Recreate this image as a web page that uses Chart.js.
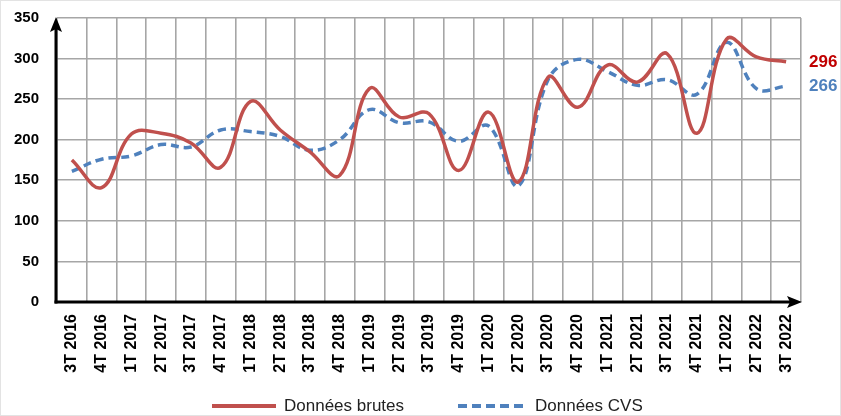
<!DOCTYPE html>
<html lang="fr">
<head>
<meta charset="utf-8">
<title>Données brutes et CVS</title>
<script src="https://cdn.jsdelivr.net/npm/chart.js@4.4.1/dist/chart.umd.min.js"></script>
<style>
  html, body { margin: 0; padding: 0; background: #fff; }
  #zone { width: 841px; height: 416px; position: relative; }
</style>
</head>
<body>
<div id="zone"><canvas id="graphique"></canvas></div>
<script>
// Trimestres (axe horizontal)
const trimestres = [
  "3T 2016", "4T 2016",
  "1T 2017", "2T 2017", "3T 2017", "4T 2017",
  "1T 2018", "2T 2018", "3T 2018", "4T 2018",
  "1T 2019", "2T 2019", "3T 2019", "4T 2019",
  "1T 2020", "2T 2020", "3T 2020", "4T 2020",
  "1T 2021", "2T 2021", "3T 2021", "4T 2021",
  "1T 2022", "2T 2022", "3T 2022"
];

// Séries
const donneesBrutes = [175, 141, 207, 208, 196, 166, 247, 212, 185, 156, 263, 228, 232, 162, 234, 148, 277, 240, 292, 271, 306, 208, 324, 302, 296];
const donneesCVS = [161, 176, 180, 194, 191, 212, 210, 204, 187, 200, 237, 221, 222, 198, 217, 143, 274, 299, 284, 267, 274, 256, 320, 263, 266];

// Graduations de l'axe vertical
const yMin = 0;
const yMax = 350;
const yPas = 50;

const couleurBrutes = "#C0504D";
const couleurCVS = "#4F81BD";
const couleurEtiquetteBrutes = "#C00000";
const police = "'Liberation Sans', Arial, sans-serif";

// Axes noirs avec flèches
const pluginAxes = {
  id: "axesFleches",
  afterDatasetsDraw(chart) {
    const { ctx, chartArea } = chart;
    const g = chartArea.left - 1;
    const b = chartArea.bottom;
    ctx.save();
    ctx.strokeStyle = "#000";
    ctx.fillStyle = "#000";
    ctx.lineWidth = 3;
    // axe vertical
    ctx.beginPath();
    ctx.moveTo(g, b + 1.5);
    ctx.lineTo(g, chartArea.top + 10);
    ctx.stroke();
    ctx.beginPath();
    ctx.moveTo(g, chartArea.top - 1);
    ctx.lineTo(g - 6, chartArea.top + 14);
    ctx.lineTo(g, chartArea.top + 11);
    ctx.lineTo(g + 6, chartArea.top + 14);
    ctx.closePath();
    ctx.fill();
    // axe horizontal
    ctx.beginPath();
    ctx.moveTo(g - 1.5, b);
    ctx.lineTo(chartArea.right - 10, b);
    ctx.stroke();
    ctx.beginPath();
    ctx.moveTo(chartArea.right + 1, b);
    ctx.lineTo(chartArea.right - 14, b - 6);
    ctx.lineTo(chartArea.right - 11, b);
    ctx.lineTo(chartArea.right - 14, b + 6);
    ctx.closePath();
    ctx.fill();
    ctx.restore();
  }
};

// Dernière valeur de chaque série, à droite du graphique
const pluginEtiquettes = {
  id: "etiquettesFin",
  afterDatasetsDraw(chart) {
    const { ctx, chartArea } = chart;
    const couleurs = [couleurEtiquetteBrutes, couleurCVS];
    ctx.save();
    ctx.font = "bold 17px " + police;
    ctx.textAlign = "left";
    ctx.textBaseline = "middle";
    chart.data.datasets.forEach((ds, i) => {
      const meta = chart.getDatasetMeta(i);
      const dernier = meta.data[meta.data.length - 1];
      ctx.fillStyle = couleurs[i];
      ctx.fillText(String(ds.data[ds.data.length - 1]), chartArea.right + 8, dernier.y);
    });
    ctx.restore();
  }
};

// Légende en bas
const pluginLegende = {
  id: "legendeBas",
  afterDraw(chart) {
    const { ctx } = chart;
    const y = 406;
    ctx.save();
    ctx.lineWidth = 4;
    ctx.strokeStyle = couleurBrutes;
    ctx.beginPath();
    ctx.moveTo(212, y);
    ctx.lineTo(276, y);
    ctx.stroke();
    ctx.strokeStyle = couleurCVS;
    ctx.setLineDash([9, 5]);
    ctx.beginPath();
    ctx.moveTo(458, y);
    ctx.lineTo(528, y);
    ctx.stroke();
    ctx.setLineDash([]);
    ctx.fillStyle = "#222";
    ctx.font = "17px 'Liberation Sans Narrow', " + police;
    ctx.textBaseline = "middle";
    ctx.fillText("Données brutes", 284, y);
    ctx.fillText("Données CVS", 535, y);
    ctx.restore();
  }
};

// Cadre léger autour de l'image
const pluginCadre = {
  id: "cadre",
  beforeDraw(chart) {
    const { ctx, width, height } = chart;
    ctx.save();
    ctx.fillStyle = "#fff";
    ctx.fillRect(0, 0, width, height);
    ctx.strokeStyle = "#e3e3e3";
    ctx.lineWidth = 1;
    ctx.strokeRect(0.5, 0.5, width - 1, height - 1);
    ctx.restore();
  }
};

const ctx = document.getElementById("graphique").getContext("2d");
new Chart(ctx, {
  type: "line",
  data: {
    labels: trimestres,
    datasets: [{
      label: "Données brutes",
      data: donneesBrutes,
      borderColor: couleurBrutes,
      borderWidth: 3.5,
      tension: 0.4,
      pointRadius: 0,
      fill: false
    }, {
      label: "Données CVS",
      data: donneesCVS,
      borderColor: couleurCVS,
      borderWidth: 3.5,
      borderDash: [8, 5],
      tension: 0.4,
      pointRadius: 0,
      fill: false
    }]
  },
  options: {
    responsive: true,
    maintainAspectRatio: false,
    animation: false,
    layout: { padding: { top: 18, right: 40, left: 0, bottom: 0 } },
    plugins: {
      legend: { display: false },
      tooltip: { enabled: false }
    },
    scales: {
      x: {
        offset: true,
        afterFit: (s) => { s.height = 114; },
        grid: { offset: true, color: "#A6A6A6", lineWidth: 1.6, drawTicks: false },
        border: { display: false },
        ticks: {
          autoSkip: false,
          minRotation: 90,
          maxRotation: 90,
          padding: 12,
          color: "#000",
          font: { family: police, size: 16, weight: "bold" }
        }
      },
      y: {
        min: yMin,
        max: yMax,
        // largeur fixe et pas de marge ajoutée en haut/bas
        afterFit: (s) => { s.width = 57; s.paddingTop = 0; s.paddingBottom = 0; },
        grid: { color: "#A6A6A6", lineWidth: 1.6, drawTicks: false },
        border: { display: false },
        ticks: {
          stepSize: yPas,
          padding: 18,
          color: "#000",
          font: { family: police, size: 15, weight: "bold" }
        }
      }
    }
  },
  plugins: [pluginCadre, pluginAxes, pluginEtiquettes, pluginLegende]
});
</script>
</body>
</html>
